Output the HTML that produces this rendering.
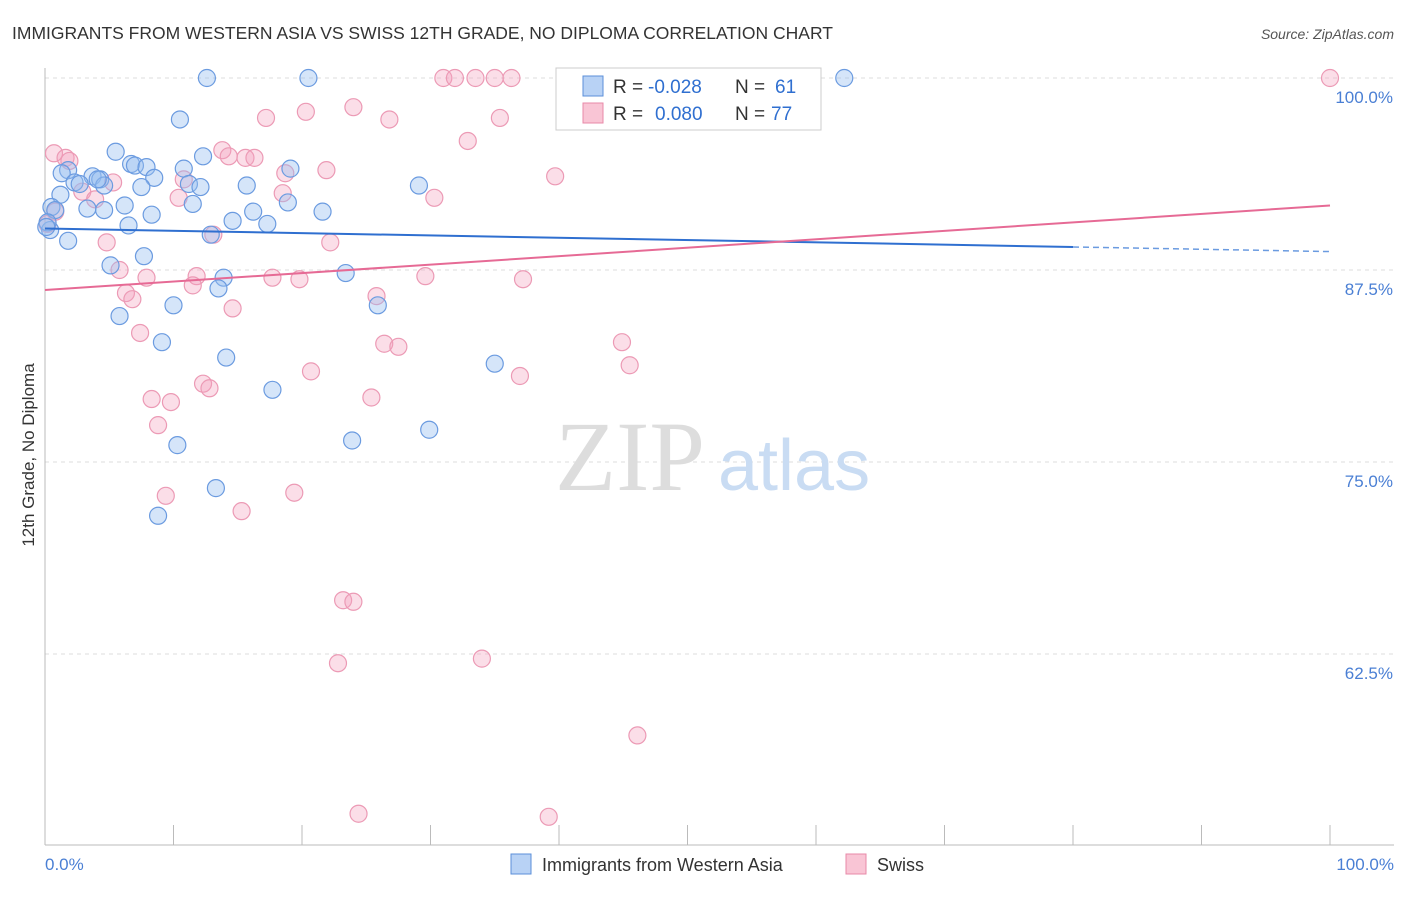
<!DOCTYPE html>
<html><head><meta charset="utf-8"><style>
body{margin:0;background:#fff;font-family:"Liberation Sans",sans-serif}
</style></head><body>
<svg width="1406" height="892" xmlns="http://www.w3.org/2000/svg" font-family="Liberation Sans, sans-serif">
<text x="12" y="39" font-size="17.5" fill="#333">IMMIGRANTS FROM WESTERN ASIA VS SWISS 12TH GRADE, NO DIPLOMA CORRELATION CHART</text>
<text x="1394" y="39" font-size="14" fill="#555" font-style="italic" text-anchor="end">Source: ZipAtlas.com</text>
<g id="grid"></g>
<line x1="45" y1="68" x2="45" y2="845" stroke="#bbb"/>
<line x1="45" y1="845" x2="1394" y2="845" stroke="#bbb"/>
<text x="34" y="455" font-size="17" fill="#333" transform="rotate(-90 34 455)" text-anchor="middle">12th Grade, No Diploma</text>
<text x="45" y="870" font-size="17" fill="#4a7fd4">0.0%</text>
<text x="1394" y="870" font-size="17" fill="#4a7fd4" text-anchor="end">100.0%</text>
<text x="555" y="490" font-size="100" fill="#ddd" font-family="Liberation Serif, serif">ZIP</text>
<text x="718" y="490" font-size="72" fill="#c9dcf3">atlas</text>
<g id="pts"></g>
<g id="lines"></g>
<g>
<rect x="556" y="68" width="265" height="62" fill="#fff" stroke="#ccc"/>
<rect x="583" y="76" width="20" height="20" fill="#b8d2f5" stroke="#5b8fd9"/>
<rect x="583" y="103" width="20" height="20" fill="#f9c5d5" stroke="#e889a8"/>
<text x="613" y="93" font-size="19" fill="#333">R =</text>
<text x="648" y="93" font-size="19" fill="#2f6fd0">-0.028</text>
<text x="735" y="93" font-size="19" fill="#333">N =</text>
<text x="775" y="93" font-size="19" fill="#2f6fd0">61</text>
<text x="613" y="120" font-size="19" fill="#333">R =</text>
<text x="655" y="120" font-size="19" fill="#2f6fd0">0.080</text>
<text x="735" y="120" font-size="19" fill="#333">N =</text>
<text x="771" y="120" font-size="19" fill="#2f6fd0">77</text>
</g>
<g>
<rect x="511" y="854" width="20" height="20" fill="#b8d2f5" stroke="#5b8fd9"/>
<text x="542" y="871" font-size="18" fill="#333">Immigrants from Western Asia</text>
<rect x="846" y="854" width="20" height="20" fill="#f9c5d5" stroke="#e889a8"/>
<text x="877" y="871" font-size="18" fill="#333">Swiss</text>
</g>
</svg>
<script>
const yTicks=[100,87.5,75,62.5];
const yTickLabels=["100.0%","87.5%","75.0%","62.5%"];
const xTicks=[0,10,20,30,40,50,60,70,80,90,100];
const blueX=[12.6,20.5,62.2,10.5,5.5,12.3,6.7,7.0,7.9,10.8,1.8,3.7,4.3,8.5,1.3,1.2,2.3,2.7,3.3,4.6,4.1,6.2,7.5,11.2,12.1,15.7,11.5,8.3,4.6,6.5,14.6,16.2,17.3,18.9,19.1,21.6,29.1,12.9,1.8,7.7,5.1,13.9,13.5,23.4,10.0,5.8,25.9,9.1,14.1,35.0,17.7,23.9,29.9,10.3,13.3,8.8,0.5,0.4,0.8,0.2,0.1];
const blueY=[100,100,100,97.3,95.2,94.9,94.4,94.3,94.2,94.1,94.0,93.6,93.4,93.5,93.8,92.4,93.2,93.1,91.5,93.0,93.4,91.7,92.9,93.1,92.9,93.0,91.8,91.1,91.4,90.4,90.7,91.3,90.5,91.9,94.1,91.3,93.0,89.8,89.4,88.4,87.8,87.0,86.3,87.3,85.2,84.5,85.2,82.8,81.8,81.4,79.7,76.4,77.1,76.1,73.3,71.5,91.6,90.1,91.4,90.6,90.3];
const pinkX=[0.7,1.6,1.9,0.8,0.2,2.9,3.9,5.3,4.8,5.8,6.3,6.8,7.4,7.9,10.8,10.4,13.8,14.3,15.6,16.3,17.2,20.3,24.0,26.8,32.9,35.4,31.0,31.9,33.5,35.0,36.3,41.5,47.3,54.5,100,18.7,18.5,21.9,22.2,13.1,11.8,11.5,14.6,17.7,19.8,29.6,37.2,30.3,39.7,25.8,26.4,27.5,20.7,25.4,36.96,44.9,45.5,12.3,12.8,8.3,9.8,8.8,9.4,15.3,19.4,23.2,24.0,22.8,34.0,46.1,24.4,39.2];
const pinkY=[95.1,94.8,94.6,91.3,90.5,92.6,92.1,93.2,89.3,87.5,86.0,85.6,83.4,87.0,93.4,92.2,95.3,94.9,94.8,94.8,97.4,97.8,98.1,97.3,95.9,97.4,100,100,100,100,100,100,100,100,100,93.8,92.5,94.0,89.3,89.8,87.1,86.5,85.0,87.0,86.9,87.1,86.9,92.2,93.6,85.8,82.7,82.5,80.9,79.2,80.6,82.8,81.3,80.1,79.8,79.1,78.9,77.4,72.8,71.8,73.0,66.0,65.9,61.9,62.2,57.2,52.1,51.9];
const X0=45,X1=1330,Y100=78,PX=192/12.5;
const sx=v=>X0+(X1-X0)*v/100, sy=v=>Y100+(100-v)*PX;
const NS="http://www.w3.org/2000/svg";
function mk(t,a,p){const e=document.createElementNS(NS,t);for(const k in a)e.setAttribute(k,a[k]);p.appendChild(e);return e;}
const grid=document.getElementById('grid');
yTicks.forEach((t,i)=>{
 const l=mk('line',{x1:45,x2:1394,y1:sy(t),y2:sy(t),stroke:'#ddd','stroke-dasharray':'4,4'},grid);
 
 
 const tx=mk('text',{x:1393,y:sy(t)+25,'font-size':17,fill:'#4a7fd4','text-anchor':'end'},grid);
 tx.textContent=yTickLabels[i];
 
 
});
xTicks.forEach(t=>{
 const l=mk('line',{x1:sx(t),x2:sx(t),y1:825,y2:845,stroke:'#bbb'},grid);
 
 
});
const pts=document.getElementById('pts');
pinkX.forEach((x,i)=>{
 const c=mk('circle',{cx:sx(x),cy:sy(pinkY[i]),r:8.5,fill:'rgba(244,160,188,0.35)',stroke:'#ec9ab5','stroke-width':1.2},pts);
 
 
});
blueX.forEach((x,i)=>{
 const c=mk('circle',{cx:sx(x),cy:sy(blueY[i]),r:8.5,fill:'rgba(150,190,240,0.4)',stroke:'#6b9be0','stroke-width':1.2},pts);
 
 
});
const lines=document.getElementById('lines');
const bA=90.2,bB=-1.5,pA=86.2,pB=5.5;
let l=mk('line',{x1:sx(0),y1:sy(bA),x2:sx(80),y2:sy(bA+bB*0.8),stroke:'#2f6fd0','stroke-width':2},lines);


l=mk('line',{x1:sx(80),y1:sy(bA+bB*0.8),x2:sx(100),y2:sy(bA+bB),stroke:'#6b9be0','stroke-width':1.5,'stroke-dasharray':'6,4'},lines);


l=mk('line',{x1:sx(0),y1:sy(pA),x2:sx(100),y2:sy(pA+pB),stroke:'#e66a95','stroke-width':2},lines);


</script>
</body></html>
